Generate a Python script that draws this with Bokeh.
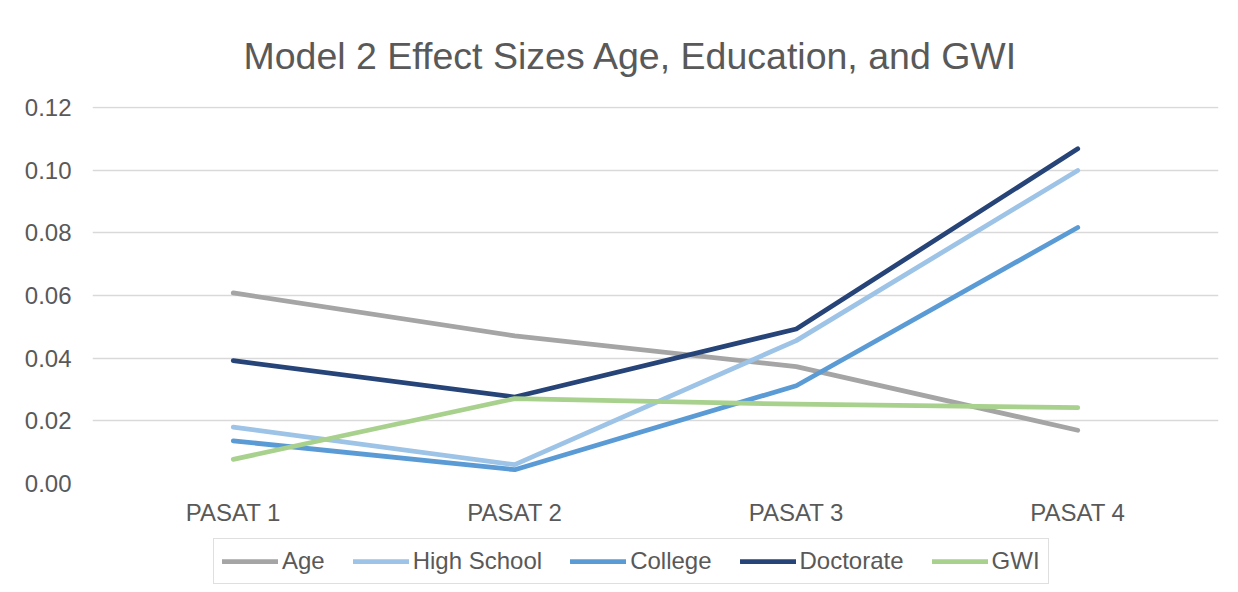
from bokeh.plotting import figure
from bokeh.layouts import column
from bokeh.models import Range1d, FixedTicker, NumeralTickFormatter, Legend, LegendItem
from bokeh.embed import file_html
from bokeh.resources import INLINE

categories = ["PASAT 1", "PASAT 2", "PASAT 3", "PASAT 4"]
age = [0.0608, 0.0471, 0.0373, 0.0170]
high_school = [0.0180, 0.0060, 0.0456, 0.0999]
college = [0.0136, 0.0044, 0.0312, 0.0817]
doctorate = [0.0392, 0.0276, 0.0493, 0.1068]
gwi = [0.0077, 0.0271, 0.0253, 0.0242]
y_ticks = [0.0, 0.02, 0.04, 0.06, 0.08, 0.10, 0.12]

series = [
    ("Age", age, "#A5A5A5"),
    ("High School", high_school, "#9DC3E6"),
    ("College", college, "#5B9BD5"),
    ("Doctorate", doctorate, "#264478"),
    ("GWI", gwi, "#A9D18E"),
]

FONT = "Liberation Sans"
TXT = "#595959"
LW = 4.75

p = figure(
    x_range=categories,
    y_range=Range1d(0, 0.1203),
    frame_width=1126,
    frame_height=377,
    output_backend="svg",
    toolbar_location=None,
    min_border_left=92,
    min_border_right=20,
    min_border_top=106,
    min_border_bottom=53,
    title="Model 2 Effect Sizes Age, Education, and GWI",
)
p.outline_line_color = None
p.background_fill_color = "white"
p.border_fill_color = "white"

p.title.align = "left"
p.title.offset = 151
p.title.text_font = FONT
p.title.text_font_size = "37.5px"
p.title.text_font_style = "normal"
p.title.text_color = TXT
p.title.standoff = 60

p.x_range.range_padding = 0

p.yaxis.ticker = FixedTicker(ticks=y_ticks)
p.yaxis.formatter = NumeralTickFormatter(format="0.00")
for ax in (p.xaxis[0], p.yaxis[0]):
    ax.axis_line_color = None
    ax.major_tick_line_color = None
    ax.minor_tick_line_color = None
    ax.major_label_text_font = FONT
    ax.major_label_text_font_size = "24px"
    ax.major_label_text_color = TXT
p.yaxis.major_label_standoff = 15
p.xaxis.major_label_standoff = 9

p.xgrid.grid_line_color = None
p.ygrid.grid_line_color = "#D9D9D9"
p.ygrid.grid_line_width = 1.5

for name, vals, color in series:
    p.line(categories, vals, line_color=color, line_width=LW,
           line_cap="round", line_join="round")

# legend strip below the chart: same series, drawn outside this strip's visible y range
lp = figure(
    width=1238,
    height=56,
    x_range=p.x_range,
    y_range=Range1d(1, 2),
    output_backend="svg",
    toolbar_location=None,
    min_border=0,
)
lp.axis.visible = False
lp.grid.grid_line_color = None
lp.outline_line_color = None
lp.border_fill_color = "white"
lp.background_fill_color = "white"

items = []
for name, vals, color in series:
    r = lp.line(categories, vals, line_color=color, line_width=LW, line_cap="round")
    items.append(LegendItem(label=name, renderers=[r]))

legend = Legend(items=items, orientation="horizontal", location=(121, 8))
legend.label_text_font = FONT
legend.label_text_font_size = "24px"
legend.label_text_color = TXT
legend.glyph_width = 56
legend.glyph_height = 20
legend.label_standoff = 4
legend.spacing = 28
legend.padding = 8
legend.margin = 0
legend.border_line_color = "#BFBFBF"
legend.border_line_width = 1.5
legend.background_fill_color = "white"
lp.add_layout(legend, "center")

layout = column(p, lp, spacing=0)
open("out.html", "w").write(file_html(layout, INLINE))
